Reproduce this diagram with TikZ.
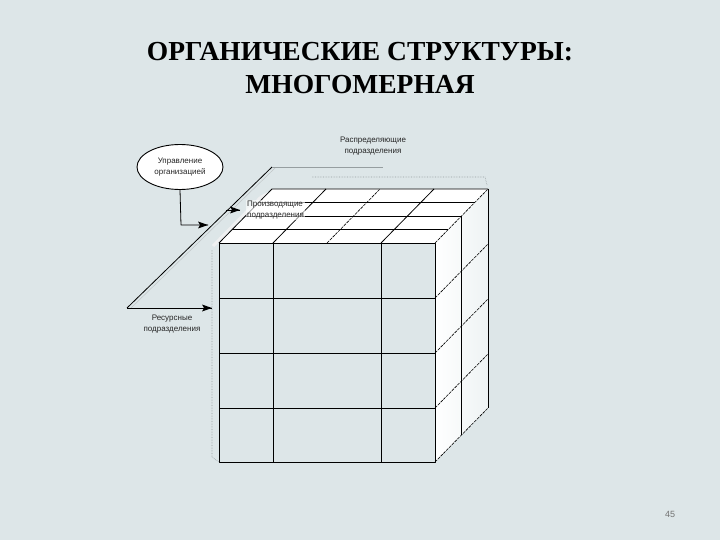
\documentclass[tikz,border=0pt]{standalone}
\usepackage{fontspec}
\setmainfont{Liberation Serif}
\setsansfont{Liberation Sans}
\usepackage{tikz}
\usetikzlibrary{positioning,shapes,arrows}

\definecolor{slidebg}{RGB}{221,230,232}
\definecolor{sideface}{RGB}{238,243,244}
\definecolor{ghost}{RGB}{150,158,160}

% right-pointing arrow head drawn at a named point
\newcommand{\headright}[1]{\fill[black] (#1) -- ++(-10,-3.5) -- ++(2,3.5) -- ++(-2,3.5) -- cycle;}

\begin{document}
\begin{tikzpicture}[x=1pt, y=-1pt, line join=round]
  \fill[slidebg] (0,0) rectangle (720,540);
  \useasboundingbox (0,0) rectangle (720,540);

  \tikzset{cubeline/.style={black, line width=0.8pt}}
  \tikzset{backline/.style={black, line width=0.6pt, dashed, dash pattern=on 3pt off 1pt}}
  \tikzset{axisline/.style={black, line width=0.8pt}}
  \tikzset{smalltext/.style={font=\sffamily\fontsize{8}{11.5}\selectfont, text=black!85, align=center, inner sep=1pt}}

  % title
  \node[font=\bfseries\fontsize{27.5}{33}\selectfont, align=center] (title) at (360,68)
    {ОРГАНИЧЕСКИЕ СТРУКТУРЫ:\\МНОГОМЕРНАЯ};

  % ghost outlines
  \draw[ghost, densely dotted, line width=0.6pt] (212,250) -- (212,457) -- (219,462);
  \draw[ghost, densely dotted, line width=0.6pt] (312,177) -- (485,177) -- (487,185);
  \draw[white!85!ghost, line width=3pt, rounded corners=6pt] (213,246) -- (264,194) -- (285,193);

  % faces
  \fill[white] (219,243) -- (272,189) -- (488,189) -- (435,243) -- cycle;
  \shade[left color=white, right color=sideface] (435,243) -- (488,189) -- (488,408) -- (435,462) -- cycle;

  % top face
  \foreach \f in {0.25,0.5,0.75}
    \draw[cubeline, line width=0.6pt] (219+53*\f,243-54*\f) -- (435+53*\f,243-54*\f);
  \draw[cubeline] (273,243) -- (326,189);
  \draw[backline] (327,243) -- (380,189);
  \draw[cubeline] (381,243) -- (434,189);
  \draw[cubeline] (219,243) -- (272,189) -- (488,189);
  \draw[backline] (435,243) -- (488,189);

  % right face
  \foreach \y in {298,353,408,462}
    \draw[backline] (435,\y) -- (488,\y-54);
  \draw[cubeline] (461.5,216) -- (461.5,435);
  \draw[cubeline, line width=0.6pt] (488,189) -- (488,408);

  % front face
  \draw[cubeline] (219,243) rectangle (435,462);
  \foreach \x in {273,381}
    \draw[cubeline] (\x,243) -- (\x,462);
  \foreach \y in {298,353,408}
    \draw[cubeline] (219,\y) -- (435,\y);

  % management ellipse
  \node[ellipse, draw, fill=white, line width=0.9pt, minimum width=86pt, minimum height=45pt,
        smalltext] (mgmt) at (180,167) {Управление\\организацией};
  \coordinate (mgmtcorner) at (181,225);
  \coordinate (mgmtend) at (208,225);
  \draw[axisline] (mgmt.south) -- (mgmtcorner) -- (mgmtend);
  \headright{mgmtend}

  % resource axis
  \coordinate (axisorigin) at (127,308);
  \coordinate (axistop) at (272,167);
  \coordinate (axisright) at (383,167);
  \coordinate (resend) at (212,308);
  \draw[ghost!60, line width=0.5pt] (130,309) -- (275,168);
  \draw[axisline] (axisorigin) -- (axistop);
  \draw[ghost, line width=0.6pt] (axistop) -- (axisright);
  \draw[axisline] (axisorigin) -- (resend);
  \headright{resend}

  % production arrow
  \coordinate (prodstart) at (226,210);
  \coordinate (prodend) at (240,210);
  \draw[axisline] (prodstart) -- (prodend);
  \headright{prodend}

  % labels
  \node[smalltext] (distrib) at (373,146) {Распределяющие\\подразделения};
  \node[smalltext, anchor=west, align=left, fill=white, fill opacity=0.6, text opacity=1]
    (prod) at (246,210) {Производящие\\подразделения};
  \node[smalltext] (resource) at (172,324) {Ресурсные\\подразделения};

  % page number
  \node[font=\sffamily\fontsize{9}{10}\selectfont, text=black!55] (pagenum) at (670,514) {45};
\end{tikzpicture}
\end{document}
